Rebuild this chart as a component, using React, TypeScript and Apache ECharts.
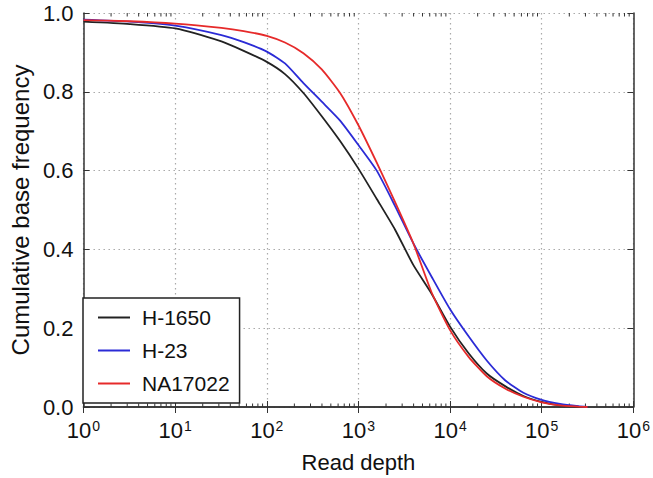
import React, { useEffect, useRef } from "react";
import * as echarts from "echarts";

// Read depth sample positions (x values)
const depths = [1, 3.2, 10, 32, 56, 100, 158, 251, 398, 631, 1000, 1585, 2512, 3981, 6310, 10000, 15849, 25119, 39811, 63096, 100000, 158489, 251189, 316228];

const seriesNames = ["H-1650", "H-23", "NA17022"];

const h1650 = [0.978, 0.972, 0.961, 0.928, 0.904, 0.876, 0.845, 0.797, 0.738, 0.675, 0.605, 0.528, 0.45, 0.36, 0.287, 0.204, 0.137, 0.085, 0.053, 0.028, 0.013, 0.004, 0.001, 0.0];
const h23 = [0.983, 0.978, 0.968, 0.944, 0.926, 0.902, 0.872, 0.822, 0.775, 0.727, 0.665, 0.6, 0.51, 0.415, 0.33, 0.248, 0.18, 0.118, 0.068, 0.036, 0.018, 0.008, 0.002, 0.0];
const na17022 = [0.982, 0.979, 0.973, 0.962, 0.954, 0.942, 0.925, 0.898, 0.857, 0.797, 0.715, 0.62, 0.52, 0.415, 0.29, 0.195, 0.128, 0.078, 0.047, 0.026, 0.012, 0.004, 0.001, 0.0];

const seriesColors = ["#222222", "#2b2bd6", "#e62a2a"];

const yTicks = [0, 0.2, 0.4, 0.6, 0.8, 1.0];

// minor tick positions on the log x axis
const minorTicks: number[] = [];
for (let e = 0; e < 6; e++) {
  for (let k = 2; k <= 9; k++) minorTicks.push(k * Math.pow(10, e));
}

const FONT = "'Liberation Sans', Arial, Helvetica, sans-serif";

export default function App() {
  const ref = useRef<HTMLDivElement>(null);
  useEffect(() => {
    if (!ref.current) return;
    const chart = echarts.init(ref.current, undefined, { renderer: "svg" });
    const values = [h1650, h23, na17022];
    const lineSeries = seriesNames.map((name, i) => ({
      name,
      type: "line",
      xAxisIndex: 0,
      yAxisIndex: 0,
      symbol: "none",
      smooth: 0.2,
      data: depths.map((d, j) => [d, values[i][j]]),
      lineStyle: { color: seriesColors[i], width: 1.8 },
      itemStyle: { color: seriesColors[i] },
      z: 3,
    }));
    const axisLine = { show: true, lineStyle: { color: "#333", width: 1.5 } };
    const dotted = { show: true, lineStyle: { color: "#aaa", type: [1.5, 3.5], width: 1.2 } };
    chart.setOption({
      animation: false,
      backgroundColor: "#fff",
      grid: { left: 72, right: 19, top: 13, bottom: 71, containLabel: false },
      legend: {
        data: seriesNames,
        orient: "vertical",
        left: 83,
        top: 298,
        backgroundColor: "#fff",
        borderColor: "#222",
        borderWidth: 1.5,
        borderRadius: 0,
        padding: [9, 10, 9, 15],
        itemGap: 12,
        icon: "rect",
        itemWidth: 32,
        itemHeight: 2,
        textStyle: { fontSize: 21, fontFamily: FONT, color: "#111", padding: [0, 0, 0, 7] },
      },
      xAxis: [
        {
          type: "log",
          logBase: 10,
          min: 1,
          max: 1000000,
          position: "bottom",
          name: "Read depth",
          nameLocation: "middle",
          nameGap: 44,
          nameTextStyle: { fontSize: 22, fontFamily: FONT, color: "#111" },
          axisLine,
          axisTick: { show: true, inside: true, length: 6, lineStyle: { color: "#333" } },
          splitLine: dotted,
          axisLabel: {
            margin: 12,
            color: "#111",
            formatter: (v: number) => `{b|10}{s|${Math.round(Math.log10(v))}}`,
            rich: {
              b: { fontSize: 22, fontFamily: FONT, color: "#111" },
              s: { fontSize: 14, fontFamily: FONT, color: "#111", verticalAlign: "top", padding: [0, 0, 0, 1] },
            },
          },
        },
        {
          type: "log",
          logBase: 10,
          min: 1,
          max: 1000000,
          position: "top",
          axisLine,
          axisTick: { show: true, inside: true, length: 6, lineStyle: { color: "#333" } },
          axisLabel: { show: false },
          splitLine: { show: false },
        },
      ],
      yAxis: [
        {
          type: "value",
          min: 0,
          max: 1,
          interval: 0.2,
          position: "left",
          name: "Cumulative base frequency",
          nameLocation: "middle",
          nameGap: 48,
          nameTextStyle: { fontSize: 24, fontFamily: FONT, color: "#111" },
          axisLine,
          axisTick: { show: true, inside: true, length: 6, lineStyle: { color: "#333" } },
          splitLine: dotted,
          axisLabel: {
            margin: 10,
            fontSize: 22,
            fontFamily: FONT,
            color: "#111",
            formatter: (v: number) => (yTicks.includes(Math.round(v * 10) / 10) ? v.toFixed(1) : ""),
          },
        },
        {
          type: "value",
          min: 0,
          max: 1,
          interval: 0.2,
          position: "right",
          axisLine,
          axisTick: { show: true, inside: true, length: 6, lineStyle: { color: "#333" } },
          axisLabel: { show: false },
          splitLine: { show: false },
        },
      ],
      series: [
        ...lineSeries,
        {
          type: "custom",
          name: "minor",
          xAxisIndex: 0,
          yAxisIndex: 0,
          silent: true,
          data: minorTicks.map((v) => [v, 0]),
          encode: { x: 0, y: 1 },
          renderItem: (params: any, api: any) => {
            const v = api.value(0);
            const b = api.coord([v, 0]);
            const t = api.coord([v, 1]);
            return {
              type: "group",
              children: [
                { type: "line", shape: { x1: b[0], y1: b[1], x2: b[0], y2: b[1] - 3.5 }, style: { stroke: "#333", lineWidth: 1 } },
                { type: "line", shape: { x1: t[0], y1: t[1], x2: t[0], y2: t[1] + 3.5 }, style: { stroke: "#333", lineWidth: 1 } },
              ],
            };
          },
          z: 2,
        },
      ],
    });
    return () => chart.dispose();
  }, []);
  return <div ref={ref} style={{ width: 653, height: 478, position: "absolute", left: 0, top: 0 }} />;
}
